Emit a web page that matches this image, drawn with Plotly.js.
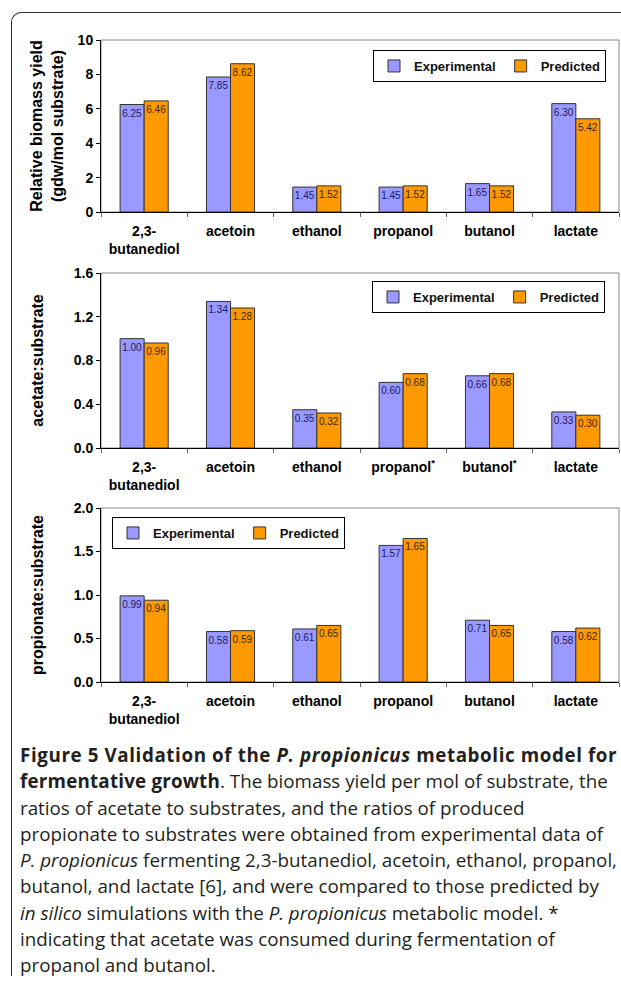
<!DOCTYPE html>
<html>
<head>
<meta charset="utf-8">
<script src="https://cdn.plot.ly/plotly-3.0.1.min.js"></script>
<style>
  html, body { margin: 0; padding: 0; background: #ffffff; }
  #wrap { position: relative; width: 621px; height: 982px; overflow: hidden; background: #fff; }
  #chart { position: absolute; left: 0; top: 0; width: 621px; height: 982px; }
  #frame { position: absolute; left: 11px; top: 12px; width: 700px; height: 963px;
           border-top: 1px solid #333; border-left: 1px solid #333; border-top-left-radius: 10px; }
  #caption { position: absolute; left: 20px; top: 742px; font-family: "Open Sans", sans-serif;
             font-size: 18.8px; line-height: 26.3px; color: #231f20; white-space: nowrap; }
  #caption b.l1 { letter-spacing: 0.6px; }
  #caption b.l2 { letter-spacing: 0.2px; }
</style>
</head>
<body>
<div id="wrap">
  <div id="frame"></div>
  <div id="chart"></div>
  <div id="caption"><b class="l1">Figure 5 Validation of the <i>P. propionicus</i> metabolic model for</b><br><b class="l2">fermentative growth</b>. The biomass yield per mol of substrate, the<br>ratios of acetate to substrates, and the ratios of produced<br>propionate to substrates were obtained from experimental data of<br><i>P. propionicus</i> fermenting 2,3-butanediol, acetoin, ethanol, propanol,<br>butanol, and lactate [6], and were compared to those predicted by<br><i>in silico</i> simulations with the <i>P. propionicus</i> metabolic model. *<br>indicating that acetate was consumed during fermentation of<br>propanol and butanol.</div>
</div>
<script>
// ---- data ----
const categories = ["2,3-<br>butanediol", "acetoin", "ethanol", "propanol", "butanol", "lactate"];
const categoriesAcetate = ["2,3-<br>butanediol", "acetoin", "ethanol", "propanol<sup>*</sup>", "butanol<sup>*</sup>", "lactate"];
const seriesNames = ["Experimental", "Predicted"];
const biomassExp = [6.25, 7.85, 1.45, 1.45, 1.65, 6.30];
const biomassPred = [6.46, 8.62, 1.52, 1.52, 1.52, 5.42];
const acetateExp = [1.00, 1.34, 0.35, 0.60, 0.66, 0.33];
const acetatePred = [0.96, 1.28, 0.32, 0.68, 0.68, 0.30];
const propionateExp = [0.99, 0.58, 0.61, 1.57, 0.71, 0.58];
const propionatePred = [0.94, 0.59, 0.65, 1.65, 0.65, 0.62];
const yTitles = ["Relative biomass yield<br>(gdw/mol substrate)", "acetate:substrate", "propionate:substrate"];

// ---- styling ----
const W = 621, H = 982;
const px = v => v / W;
const py = v => 1 - v / H;
const colExp = "#9999FF", colPred = "#FF9900";
const txtExp = "#1c1c5c", txtPred = "#3a2600";
const FONT = "Liberation Sans, Arial, sans-serif";

function barTrace(xs, ys, name, color, tcolor, xa, ya, leg) {
  return {
    type: "bar", x: xs, y: ys, name: name, xaxis: xa, yaxis: ya, legend: leg,
    showlegend: true,
    marker: { color: color, line: { color: "#333333", width: 1 } },
    text: ys.map(v => v.toFixed(2)), textposition: "inside", insidetextanchor: "end",
    textangle: 0, constraintext: "none", cliponaxis: false,
    textfont: { family: FONT, size: 10, color: tcolor },
    hoverinfo: "x+y"
  };
}

const data = [
  barTrace(categories, biomassExp, seriesNames[0], colExp, txtExp, "x", "y", "legend"),
  barTrace(categories, biomassPred, seriesNames[1], colPred, txtPred, "x", "y", "legend"),
  barTrace(categoriesAcetate, acetateExp, seriesNames[0], colExp, txtExp, "x2", "y2", "legend2"),
  barTrace(categoriesAcetate, acetatePred, seriesNames[1], colPred, txtPred, "x2", "y2", "legend2"),
  barTrace(categories, propionateExp, seriesNames[0], colExp, txtExp, "x3", "y3", "legend3"),
  barTrace(categories, propionatePred, seriesNames[1], colPred, txtPred, "x3", "y3", "legend3")
];

const xDom = [px(101), px(619)];
const panels = [
  { top: 40, bottom: 212, range: [0, 10], dtick: 2, fmt: "d" },
  { top: 273, bottom: 448, range: [0, 1.6], dtick: 0.4, fmt: ".1f" },
  { top: 508, bottom: 682, range: [0, 2.0], dtick: 0.5, fmt: ".1f" }
];

function xAxis(anchor) {
  return {
    domain: xDom, anchor: anchor, type: "category",
    showline: true, linecolor: "#000000", linewidth: 1,
    ticks: "outside", tickson: "boundaries", ticklen: 4, tickcolor: "#666666",
    showgrid: false, zeroline: false, fixedrange: true,
    tickfont: { family: FONT, size: 14, color: "#000", weight: "bold" },
    ticklabelstandoff: 6
  };
}
function yAxis(anchor, p, title, standoff) {
  return {
    domain: [py(p.bottom), py(p.top)], anchor: anchor, range: p.range, dtick: p.dtick,
    tickformat: p.fmt, showline: true, linecolor: "#000000", linewidth: 1,
    ticks: "outside", ticklen: 4, tickcolor: "#000", showgrid: false, zeroline: false,
    fixedrange: true,
    tickfont: { family: FONT, size: 14, color: "#000", weight: "bold" },
    title: { text: title, standoff: standoff, font: { family: FONT, size: 16, color: "#000", weight: "bold" } }
  };
}

function legendBox(x, y, xanchor) {
  return {
    x: x, y: y, xanchor: xanchor, yanchor: "top", orientation: "h",
    bgcolor: "#ffffff", bordercolor: "#000000", borderwidth: 1,
    font: { family: FONT, size: 13, color: "#111", weight: "bold" },
    itemwidth: 30, tracegroupgap: 0, traceorder: "normal"
  };
}

const shapes = [
  { type: "rect", xref: "x domain", yref: "y domain", x0: 0, x1: 1, y0: 0, y1: 1, line: { color: "#888", width: 1 }, layer: "below" },
  { type: "rect", xref: "x2 domain", yref: "y2 domain", x0: 0, x1: 1, y0: 0, y1: 1, line: { color: "#888", width: 1 }, layer: "below" },
  { type: "rect", xref: "x3 domain", yref: "y3 domain", x0: 0, x1: 1, y0: 0, y1: 1, line: { color: "#888", width: 1 }, layer: "below" }
];

const layout = {
  width: W, height: H, margin: { l: 0, r: 0, t: 0, b: 0 },
  paper_bgcolor: "rgba(0,0,0,0)", plot_bgcolor: "#ffffff",
  barmode: "group", bargap: 0.443, bargroupgap: 0,
  font: { family: FONT, color: "#000" },
  xaxis: xAxis("y"), xaxis2: xAxis("y2"), xaxis3: xAxis("y3"),
  yaxis: yAxis("x", panels[0], yTitles[0], 10),
  yaxis2: yAxis("x2", panels[1], yTitles[1], 26),
  yaxis3: yAxis("x3", panels[2], yTitles[2], 26),
  legend: legendBox(px(606), py(50), "right"),
  legend2: legendBox(px(605), py(281), "right"),
  legend3: legendBox(px(112), py(517), "left"),
  shapes: shapes,
  showlegend: true
};

Plotly.newPlot("chart", data, layout, { displayModeBar: false, staticPlot: true });
</script>
</body>
</html>
